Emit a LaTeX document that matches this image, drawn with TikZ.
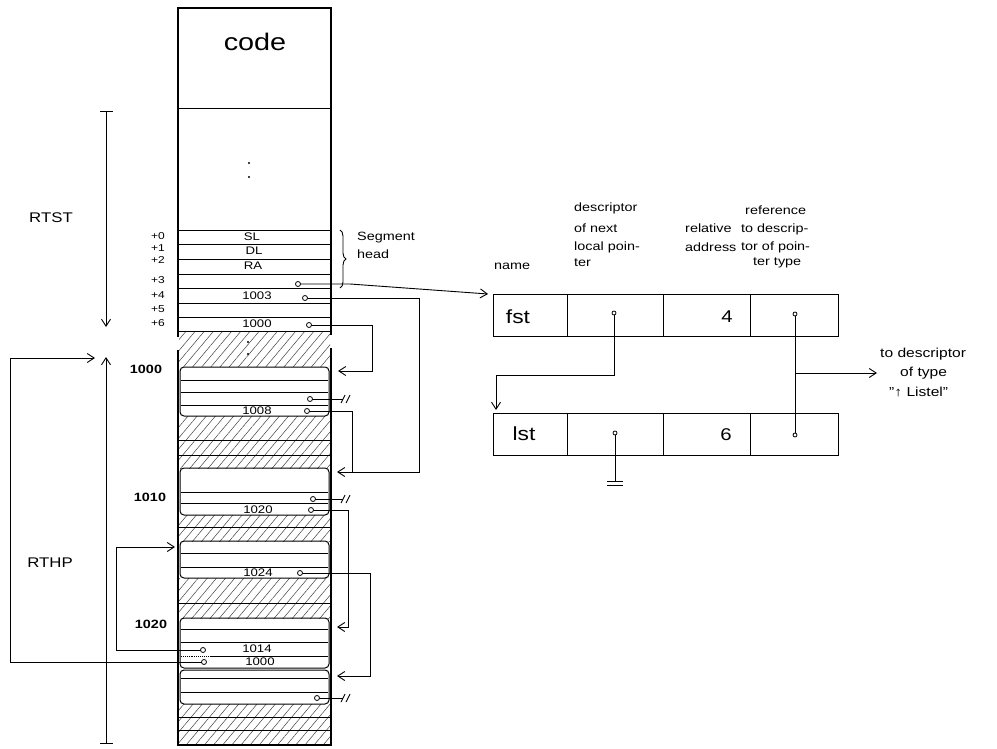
\documentclass[tikz,border=0pt]{standalone}
\usepackage{fontspec}
\setmainfont{Liberation Sans}[FakeStretch=1.2]
\usetikzlibrary{arrows.meta,patterns.meta,decorations.pathreplacing}
\begin{document}
\begin{tikzpicture}[x=1pt,y=-1pt,
  ln/.style={line width=0.9pt},
  edge/.style={line width=1.4pt},
  ptr/.style={line width=0.9pt},
  arr/.style={ptr,-{Straight Barb[length=7pt,width=9pt]}},
  dotc/.style={circle,draw,fill=white,inner sep=0pt,minimum size=5pt,line width=0.8pt},
  hatch/.style={pattern={Lines[angle=50,distance=7pt,line width=0.5pt]},pattern color=black!75},
  seg/.style={line width=1pt,rounded corners=4pt},
  off/.style={font=\fontsize{10}{11}\selectfont,anchor=east,inner sep=0pt},
  cellt/.style={font=\fontsize{11}{12}\selectfont,inner sep=0pt},
  addr/.style={font=\fontsize{12}{13}\selectfont\bfseries,inner sep=0pt},
  hdr/.style={font=\fontsize{12}{13}\selectfont,anchor=west,inner sep=0pt},
  big/.style={font=\fontsize{14}{15}\selectfont,inner sep=0pt},
  tcell/.style={draw,line width=1pt,minimum height=42pt,inner sep=0pt},
  nil/.pic={\draw[ptr] (-3,4)--(1,-4) (2,4)--(6,-4);}
]
\useasboundingbox (0,0) rectangle (997,749);

% hatched regions
\foreach \a/\b in {332/366,416/468,515/541,578/618,704/744}
  \fill[hatch] (179,\a) rectangle (330,\b);
\foreach \y in {440,455,527,603,717,730}
  \draw[ln] (179,\y) -- (330,\y);

% column outline
\draw[edge] (178,337) -- (178,8) -- (331,8) -- (331,335);
\draw[edge] (178,350) -- (178,745) -- (331,745) -- (331,348);
\draw[ln] (178,108) -- (331,108);
\node[font=\fontsize{24}{26}\selectfont] (code) at (255,42) {code};
\foreach \y in {163,177} \fill (249,\y) circle (1.1pt);
\foreach \y in {342,354} \fill (248,\y) circle (1.1pt);

% stack rows
\foreach \y in {230,244,259,274,288,303,317,331}
  \draw[ln] (178,\y) -- (331,\y);
\node[off] (o0) at (165,236) {+0};
\node[off] (o1) at (165,248) {+1};
\node[off] (o2) at (165,260) {+2};
\node[off] (o3) at (165,280) {+3};
\node[off] (o4) at (165,295) {+4};
\node[off] (o5) at (165,309) {+5};
\node[off] (o6) at (165,323) {+6};
\node[cellt] (sl) at (252,237) {SL};
\node[cellt] (dl) at (254,251) {DL};
\node[cellt] (ra) at (253,266) {RA};
\node[cellt] (v1003) at (257,296) {1003};
\node[cellt] (v1000a) at (257,324) {1000};

% heap segments
\draw[seg] (180,367) rectangle (329,416);
\foreach \y in {380,392,405} \draw[ln] (181,\y) -- (328,\y);
\draw[seg] (180,468) rectangle (329,515);
\foreach \y in {492,503} \draw[ln] (181,\y) -- (328,\y);
\draw[seg] (180,541) rectangle (329,578);
\foreach \y in {553,567} \draw[ln] (181,\y) -- (328,\y);
\draw[seg] (180,618) rectangle (329,668);
\foreach \y in {629,642} \draw[ln] (181,\y) -- (328,\y);
\draw[ln] (212,656) -- (328,656);
\draw[ln,densely dotted] (181,656) -- (212,656);
\draw[seg] (180,670) rectangle (329,704);
\foreach \y in {678,692} \draw[ln] (181,\y) -- (328,\y);

\node[cellt] (v1008) at (257,411) {1008};
\node[cellt] (v1020) at (258,510) {1020};
\node[cellt] (v1024) at (258,573) {1024};
\node[cellt] (v1014) at (257,649) {1014};
\node[cellt] (v1000b) at (260,662) {1000};

\node[addr] (a1000) at (146,369) {1000};
\node[addr] (a1010) at (150,497) {1010};
\node[addr] (a1020) at (151,624) {1020};

% RTST / RTHP
\coordinate (sT) at (106,111);
\coordinate (sB) at (106,327);
\coordinate (hT) at (106,357);
\coordinate (hB) at (106,743);
\draw[ln] (100,111) -- (113,111);
\draw[arr] (sT) -- (sB);
\draw[ln] (100,743) -- (113,743);
\draw[arr] (hB) -- (hT);
\node[big] (rtst) at (51,218) {RTST};
\node[big] (rthp) at (50,563) {RTHP};

% segment head brace
\draw[ln,decorate,decoration={brace,amplitude=6pt}] (340,230) -- (340,288);
\node[hdr] (sg) at (357,238) {Segment};
\node[hdr] (hd) at (357,254) {head};

% pointer dots
\coordinate (p3) at (298,284);
\coordinate (p4) at (305,298);
\coordinate (p6) at (309,325);
\coordinate (n1) at (310,399);
\coordinate (p8) at (307,411);
\coordinate (n2) at (313,499);
\coordinate (p20) at (311,510);
\coordinate (p24) at (300,573);
\coordinate (p14) at (203,650);
\coordinate (p00) at (204,662);
\coordinate (n3) at (317,698);

\draw[arr] (p3) -- (350,284) -- (488,294);
\draw[arr] (p4) -- (419,298) -- (419,472) -- (337,472);
\draw[ptr] (p8) -- (352,411) -- (352,472);
\draw[arr] (p6) -- (372,325) -- (372,371) -- (338,371);
\draw[ptr] (n1) -- (343,399);
\pic at (344,399) {nil};
\draw[ptr] (n2) -- (343,499);
\pic at (344,499) {nil};
\draw[ptr] (n3) -- (343,698);
\pic at (344,698) {nil};
\draw[arr] (p20) -- (348,510) -- (348,627) -- (337,627);
\draw[arr] (p24) -- (370,573) -- (370,676) -- (337,676);
\draw[arr] (p14) -- (116,650) -- (116,547) -- (175,547);
\draw[arr] (p00) -- (10,662) -- (10,358) -- (95,358);
\foreach \p in {p3,p4,p6,n1,p8,n2,p20,p24,p14,p00,n3}
  \node[dotc] at (\p) {};

% descriptor table
\node[hdr] (hname) at (494,266) {name};
\node[hdr] (hd1) at (574,208) {descriptor};
\node[hdr] (hd2) at (574,228) {of next};
\node[hdr] (hd3) at (574,247) {local poin-};
\node[hdr] (hd4) at (574,263) {ter};
\node[hdr] (hr1) at (685,228) {relative};
\node[hdr] (hr2) at (685,247) {address};
\node[hdr] (hf1) at (745,210) {reference};
\node[hdr] (hf2) at (741,229) {to descrip-};
\node[hdr] (hf3) at (741,247) {tor of poin-};
\node[hdr] (hf4) at (753,263) {ter type};

\node[tcell,minimum width=74pt] (f1) at (530,315) {};
\node[tcell,minimum width=96pt] (f2) at (615,315) {};
\node[tcell,minimum width=87pt] (f3) at (706.5,315) {};
\node[tcell,minimum width=88pt] (f4) at (794,315) {};
\node[tcell,minimum width=74pt] (l1) at (530,434) {};
\node[tcell,minimum width=96pt] (l2) at (615,434) {};
\node[tcell,minimum width=87pt] (l3) at (706.5,434) {};
\node[tcell,minimum width=88pt] (l4) at (794,434) {};
\node[big,font=\fontsize{19}{20}\selectfont] (tf) at (518,317) {fst};
\node[big,font=\fontsize{19}{20}\selectfont] (tl) at (524,434) {lst};
\node[big,font=\fontsize{17}{18}\selectfont] (t4) at (727,317) {4};
\node[big,font=\fontsize{17}{18}\selectfont] (t6) at (726,435) {6};

\coordinate (fd2) at (614,313);
\coordinate (fd4) at (795,314);
\coordinate (ld2) at (615,433);
\coordinate (ld4) at (795,435);
\draw[arr] (fd2) -- (614,375) -- (496,375) -- (496,410);
\draw[ptr] (fd4) -- (ld4);
\draw[arr] (795,373) -- (877,373);
\draw[ptr] (ld2) -- (615,481);
\draw[ptr] (607,481) -- (623,481) (607,485) -- (623,485);
\foreach \p in {fd2,fd4,ld2,ld4} \node[dotc,minimum size=4pt] at (\p) {};

\node[hdr,font=\fontsize{13}{14}\selectfont] (to1) at (880,354) {to descriptor};
\node[hdr,font=\fontsize{13}{14}\selectfont] (to2) at (900,373) {of type};
\node[hdr,font=\fontsize{13}{14}\selectfont] (to3) at (889,392) {"↑ Listel"};
\end{tikzpicture}
\end{document}
